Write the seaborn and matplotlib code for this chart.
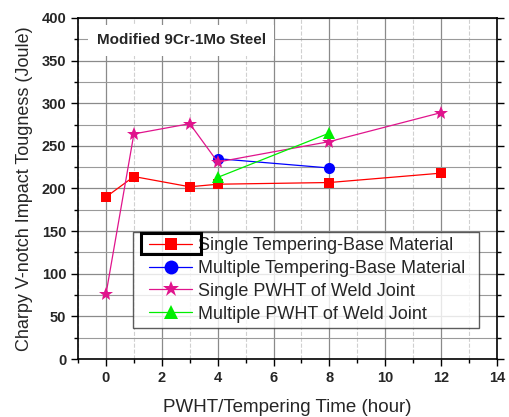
import matplotlib
matplotlib.use('Agg')
import matplotlib.pyplot as plt
from matplotlib.lines import Line2D
from matplotlib.legend_handler import HandlerLine2D
from matplotlib.patches import Rectangle
from matplotlib.ticker import MultipleLocator
import numpy as np
import pandas as pd
import seaborn as sns

# values
series_names = ['Single Tempering-Base Material', 'Multiple Tempering-Base Material',
                'Single PWHT of Weld Joint', 'Multiple PWHT of Weld Joint']
st_base_hours = [0, 1, 3, 4, 8, 12]
st_base_joule = [190, 214, 202, 205, 207, 218]
mt_base_hours = [4, 8]
mt_base_joule = [235, 224]
s_pwht_hours = [0, 1, 3, 4, 8, 12]
s_pwht_joule = [76, 264, 276, 231, 255, 289]
m_pwht_hours = [4, 8]
m_pwht_joule = [213, 265]

colors = ['#FF0000', '#0000FF', '#E0148C', '#00EE00']
markers = ['s', 'o', '*', '^']
msizes = [7, 8, 10, 8]
leg_msizes = [9, 10, 12, 10]

frames = []
for name, hrs, vals in zip(series_names,
                           [st_base_hours, mt_base_hours, s_pwht_hours, m_pwht_hours],
                           [st_base_joule, mt_base_joule, s_pwht_joule, m_pwht_joule]):
    frames.append(pd.DataFrame({'hours': hrs, 'joule': vals, 'series': name}))
df = pd.concat(frames, ignore_index=True)

sns.set_style('ticks')
plt.rcParams['font.family'] = ['Liberation Sans', 'DejaVu Sans']

fig = plt.figure(figsize=(5.1, 4.17), dpi=100)
ax = fig.add_axes([0.153, 0.139, 0.8215, 0.818])

for name, c, m, ms in zip(series_names, colors, markers, msizes):
    sns.lineplot(data=df[df['series'] == name], x='hours', y='joule', ax=ax,
                 color=c, marker=m, markersize=ms, markeredgewidth=0,
                 linewidth=0.9, label=name, sort=False, zorder=3)

ax.set_xlim(-1, 14)
ax.set_ylim(0, 400)
ax.xaxis.set_major_locator(MultipleLocator(2))
ax.xaxis.set_minor_locator(MultipleLocator(1))
ax.yaxis.set_major_locator(MultipleLocator(50))
ax.yaxis.set_minor_locator(MultipleLocator(25))

ax.grid(which='major', axis='both', color='#8a8a8a', linewidth=0.9, zorder=0)
ax.grid(which='minor', axis='y', color='#9a9a9a', linewidth=0.8, zorder=0)
ax.grid(which='minor', axis='x', color='#d0d0d0', linewidth=0.8, linestyle='--', zorder=0)
ax.set_axisbelow(True)

ax.tick_params(which='both', direction='out', top=False, right=True, labelsize=10.5,
               width=1, color='black')
ax.tick_params(which='major', length=5)
ax.tick_params(which='minor', length=3)
for lab in ax.get_xticklabels() + ax.get_yticklabels():
    lab.set_fontweight('bold')
for sp in ax.spines.values():
    sp.set_color('black')
    sp.set_linewidth(1.2)

ax.set_xlabel('PWHT/Tempering Time (hour)', fontsize=13.5, labelpad=10)
ax.set_ylabel('Charpy V-notch Impact Tougness (Joule)', fontsize=13, labelpad=6)

ax.text(0.045, 0.935, 'Modified 9Cr-1Mo Steel', transform=ax.transAxes, fontsize=11,
        fontweight='bold', va='center', ha='left', zorder=4,
        bbox=dict(facecolor='white', edgecolor='none', pad=6))

leg = ax.legend(loc='lower left', bbox_to_anchor=(0.131, 0.091, 0.826, 0.2),
                mode='expand', borderaxespad=0,
                fontsize=13, frameon=True, fancybox=False, handlelength=3.0,
                handletextpad=0.3, labelspacing=0.32, borderpad=0.3,
                handler_map={Line2D: HandlerLine2D(xpad=0.6)})
leg.get_frame().set_edgecolor('#333333')
leg.get_frame().set_linewidth(1.0)
leg.set_zorder(5)
for h, s in zip(leg.legend_handles, leg_msizes):
    h.set_markersize(s)

fig.canvas.draw()
bb = leg.legend_handles[0].get_window_extent(fig.canvas.get_renderer())
cy = (bb.y0 + bb.y1) / 2
fig.patches.append(Rectangle((bb.x0 - 2, cy - 10.5), bb.width + 4, 21,
                             fill=False, edgecolor='black', linewidth=2.2, zorder=10,
                             transform=None, figure=fig))

fig.savefig('out.png', dpi=100)
